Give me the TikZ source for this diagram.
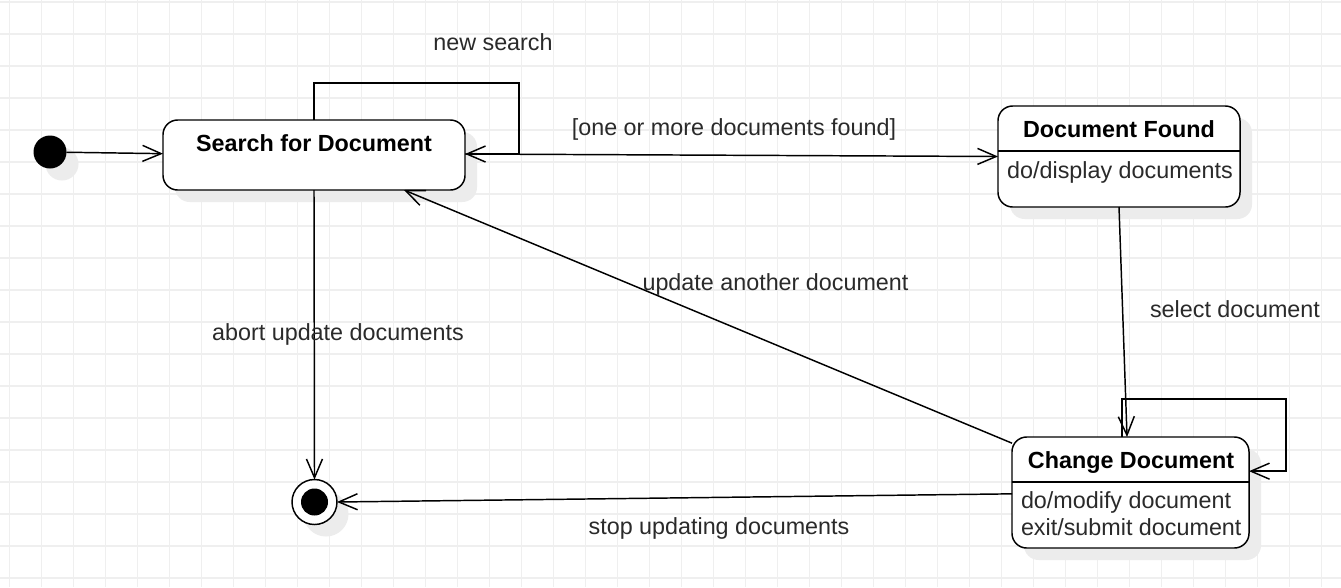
\documentclass[tikz,border=0pt]{standalone}
\usepackage{fontspec}
\setmainfont{Liberation Sans}
\usetikzlibrary{arrows.meta}
\definecolor{gridc}{HTML}{EFEFEF}
\definecolor{shc}{HTML}{ECECEC}
\definecolor{txt}{HTML}{2A2A2A}
\begin{document}
\begin{tikzpicture}[x=0.75pt,y=-0.75pt,
  every node/.style={inner sep=0pt, outer sep=0pt, font=\fontsize{17.5}{20}\selectfont},
  box/.style={draw=black, line width=1.1pt, rounded corners=11pt, fill=white},
  shbox/.style={fill=shc, rounded corners=11pt},
  title/.style={font=\fontsize{17.5}{20}\selectfont\bfseries, text=black, anchor=base},
  lbl/.style={text=txt, anchor=base},
  arr/.style={line width=1.1pt, draw=black, -{Straight Barb[length=14pt,width=12pt]}}
]
\useasboundingbox (0,0) rectangle (1341,587);
\fill[white] (0,0) rectangle (1341,587);
\foreach \x in {9.5,41.5,...,1341} \draw[gridc, line width=0.8pt] (\x,0) -- (\x,587);
\foreach \y in {2,34,...,587} \draw[gridc, line width=0.8pt] (0,\y) -- (1341,\y);

% shadows
\node[shbox, circle, minimum size=24.75pt] (initsh) at (62,164) {};
\node[shbox, circle, minimum size=33.75pt] (finalsh) at (326,514) {};
\node[shbox, minimum width=226.5pt, minimum height=52.5pt] (searchsh) at (326,167) {};
\node[shbox, minimum width=181.5pt, minimum height=75.75pt] (foundsh) at (1131,168.5) {};
\node[shbox, minimum width=177.75pt, minimum height=83.25pt] (changesh) at (1142.5,504.5) {};

% states
\node[circle, fill=black, minimum size=24.75pt] (init) at (50,152) {};
\node[circle, draw=black, line width=1.1pt, fill=white, minimum size=33.75pt] (final) at (314.5,502) {};
\node[circle, fill=black, minimum size=20.25pt] (finaldot) at (314.5,502) {};

\node[box, minimum width=226.5pt, minimum height=52.5pt] (search) at (314,155) {};
\node[title] (searcht) at (314,151) {Search for Document};

\node[box, minimum width=181.5pt, minimum height=75.75pt] (found) at (1119,156.5) {};
\coordinate (sepf) at (1119,151);
\draw[line width=1.1pt] (found.west |- sepf) -- (found.east |- sepf);
\node[title] (foundt) at (1119,137) {Document Found};
\node[lbl] (foundb) at (1120,178) {do/display documents};

\node[box, minimum width=177.75pt, minimum height=83.25pt] (change) at (1130.5,492.5) {};
\coordinate (sepc) at (1130,482);
\draw[line width=1.1pt] (change.west |- sepc) -- (change.east |- sepc);
\node[title] (changet) at (1131,468) {Change Document};
\node[lbl, anchor=base west] (changeb1) at (1021,508.5) {do/modify document};
\node[lbl, anchor=base west] (changeb2) at (1021,535.5) {exit/submit document};

% connectors
\coordinate (lp1) at (519,83);
\coordinate (lp2) at (1286,399);
\draw[arr] (init) -- ([yshift=1pt]search.west);
\draw[arr] (search.north) |- (lp1) |- ([yshift=0.75pt]search.east);
\draw[arr] ([yshift=0.75pt]search.east) -- (found.west);
\draw[arr] (found.south) -- ([xshift=-2.6pt]change.north);
\draw[arr] ([xshift=-6.4pt]change.north) |- (lp2) |- ([yshift=16pt]change.east);
\draw[arr] ([yshift=37pt]change.west) -- ([xshift=67.5pt]search.south);
\draw[arr] (search.south) -- (final.north);
\draw[arr] ([yshift=-1pt]change.west) -- (final.east);

% labels
\node[lbl] (l1) at (493,50) {new search};
\node[lbl] (l2) at (734,135) {[one or more documents found]};
\node[lbl] (l3) at (1235,317) {select document};
\node[lbl] (l4) at (775.5,290) {update another document};
\node[lbl] (l5) at (338,340) {abort update documents};
\node[lbl] (l6) at (719,534) {stop updating documents};
\end{tikzpicture}
\end{document}
